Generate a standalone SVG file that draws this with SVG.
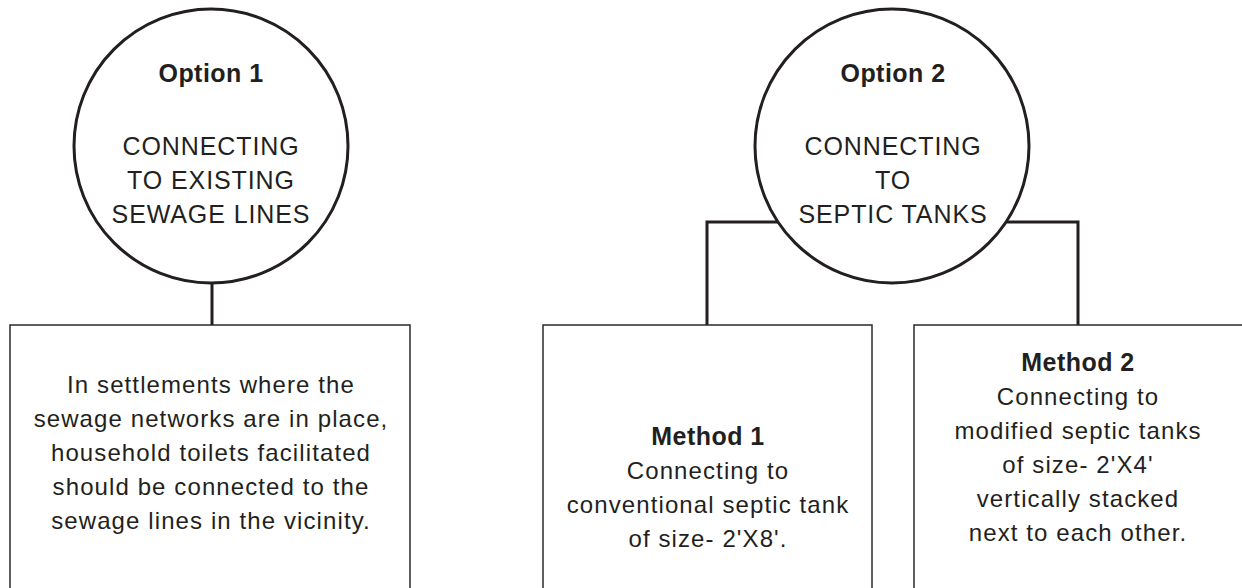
<svg xmlns="http://www.w3.org/2000/svg" width="1242" height="588" viewBox="0 0 1242 588">
<style>
.bg{fill:#ffffff}
.circ{fill:none;stroke:#231f20;stroke-width:3}
.box{fill:#ffffff;stroke:#2b2829;stroke-width:1.5}
.conn{fill:none;stroke:#231f20;stroke-width:3}
text{font-family:"Liberation Sans",Arial,Helvetica,sans-serif;font-size:24px;letter-spacing:1.1px;fill:#231f20;text-anchor:middle}
.b{font-weight:bold;font-size:25px;letter-spacing:0.45px}
.cap{font-size:25px;letter-spacing:0.9px}
</style>
<rect class="bg" x="0" y="0" width="1242" height="588"/>
<g id="connectors">
<line class="conn" x1="212" y1="283" x2="212" y2="325"/>
<polyline class="conn" points="778,222 707,222 707,325"/>
<polyline class="conn" points="1007,222 1078,222 1078,325"/>
</g>
<g id="option1">
<circle class="circ" cx="211" cy="146" r="137"/>
<text class="b" x="211" y="82">Option 1</text>
<text class="cap" x="211" y="155">CONNECTING</text>
<text class="cap" x="211" y="189">TO EXISTING</text>
<text class="cap" x="211" y="223">SEWAGE LINES</text>
</g>
<g id="option2">
<circle class="circ" cx="892" cy="146" r="137"/>
<text class="b" x="893" y="82">Option 2</text>
<text class="cap" x="893" y="155">CONNECTING</text>
<text class="cap" x="893" y="189">TO</text>
<text class="cap" x="893" y="223">SEPTIC TANKS</text>
</g>
<g id="box1">
<rect class="box" x="10" y="325" width="400" height="275"/>
<text x="211" y="393">In settlements where the</text>
<text x="211" y="427">sewage networks are in place,</text>
<text x="211" y="461">household toilets facilitated</text>
<text x="211" y="495">should be connected to the</text>
<text x="211" y="529">sewage lines in the vicinity.</text>
</g>
<g id="method1">
<rect class="box" x="543" y="325" width="329" height="275"/>
<text class="b" x="708" y="445">Method 1</text>
<text x="708" y="479">Connecting to</text>
<text x="708" y="513">conventional septic tank</text>
<text x="708" y="547">of size- 2'X8'.</text>
</g>
<g id="method2">
<rect class="box" x="914" y="325" width="340" height="275"/>
<text class="b" x="1078" y="371">Method 2</text>
<text x="1078" y="405">Connecting to</text>
<text x="1078" y="439">modified septic tanks</text>
<text x="1078" y="473">of size- 2'X4'</text>
<text x="1078" y="507">vertically stacked</text>
<text x="1078" y="541">next to each other.</text>
</g>
</svg>
